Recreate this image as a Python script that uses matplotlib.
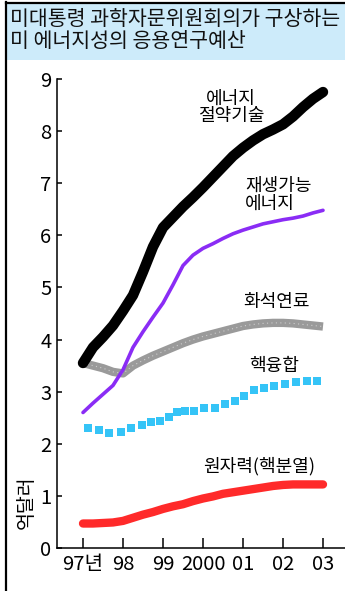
import numpy as np
import matplotlib
matplotlib.use("Agg")
import matplotlib.pyplot as plt
from matplotlib.patches import Rectangle
from matplotlib.lines import Line2D

plt.rcParams['font.family'] = ['Noto Sans CJK KR', 'DejaVu Sans']

# 데이터 (억달러)
years = [1997.0, 1997.25, 1997.5, 1997.75, 1998.0, 1998.25, 1998.5, 1998.75,
         1999.0, 1999.25, 1999.5, 1999.75, 2000.0, 2000.25, 2000.5, 2000.75,
         2001.0, 2001.25, 2001.5, 2001.75, 2002.0, 2002.25, 2002.5, 2002.75, 2003.0]

saving = [3.55, 3.85, 4.05, 4.27, 4.55, 4.85, 5.3, 5.78, 6.15, 6.35, 6.55, 6.73,
          6.92, 7.12, 7.32, 7.52, 7.68, 7.82, 7.94, 8.03, 8.13, 8.28, 8.46, 8.62, 8.75]

renewable = [2.6, 2.78, 2.95, 3.12, 3.42, 3.85, 4.15, 4.43, 4.7, 5.05, 5.42, 5.62,
             5.75, 5.84, 5.94, 6.03, 6.1, 6.16, 6.22, 6.26, 6.3, 6.33, 6.37, 6.43, 6.48]

fossil = [3.55, 3.5, 3.45, 3.38, 3.35, 3.5, 3.6, 3.69, 3.77, 3.85, 3.93, 4.0,
          4.06, 4.11, 4.16, 4.21, 4.26, 4.29, 4.31, 4.32, 4.32, 4.31, 4.29, 4.27, 4.25]

nuclear = [0.47, 0.47, 0.48, 0.49, 0.52, 0.58, 0.64, 0.69, 0.75, 0.8, 0.84, 0.9,
           0.95, 0.99, 1.04, 1.07, 1.1, 1.13, 1.16, 1.19, 1.21, 1.22, 1.22, 1.22, 1.22]

fusion_years = [1997.13, 1997.4, 1997.65, 1997.95, 1998.2, 1998.48, 1998.7, 1998.93,
                1999.15, 1999.35, 1999.55, 1999.78, 2000.03, 2000.3, 2000.55, 2000.8,
                2001.03, 2001.28, 2001.53, 2001.78, 2002.05, 2002.33, 2002.6, 2002.85]
fusion = [2.3, 2.26, 2.21, 2.23, 2.3, 2.36, 2.42, 2.44, 2.52, 2.61, 2.63, 2.63,
          2.69, 2.69, 2.76, 2.82, 2.92, 3.03, 3.07, 3.11, 3.15, 3.19, 3.21, 3.21]

tick_years = [1997, 1998, 1999, 2000, 2001, 2002, 2003]
tick_labels = ['97년', '98', '99', '2000', '01', '02', '03']
y_ticks = [0, 1, 2, 3, 4, 5, 6, 7, 8, 9]

W, H = 345, 591
fig = plt.figure(figsize=(W / 100, H / 100), dpi=100)
fig.patch.set_facecolor('white')

# 제목 상자
fig.add_artist(Rectangle((7 / W, 1 - 60 / H), 1 - 7 / W, 57 / H,
                         transform=fig.transFigure, facecolor='#cdebfa',
                         edgecolor='none', zorder=0))
fig.add_artist(Line2D([6 / W, 6 / W], [0, 1 - 2 / H], transform=fig.transFigure,
                      color='black', linewidth=1.6))
fig.add_artist(Line2D([6 / W, 1], [1 - 2.5 / H, 1 - 2.5 / H], transform=fig.transFigure,
                      color='black', linewidth=1.6))
fig.text(10 / W, 1 - 8 / H, '미대통령 과학자문위원회의가 구상하는\n미 에너지성의 응용연구예산',
         fontsize=14.8, va='top', ha='left', color='#111111', fontweight='medium',
         linespacing=1.0)

ax = fig.add_axes([57 / W, 43 / H, 288 / W, 469 / H])
ax.set_xlim(1996.35, 2003.55)
ax.set_ylim(0, 9)

ax.plot(years, nuclear, color='#ff2a2a', linewidth=6, solid_capstyle='round')
ax.plot(fusion_years, fusion, linestyle='none', marker='s', markersize=6,
        color='#35c4f7', markeredgewidth=0)
ax.plot(years, fossil, color='#9a9a9a', linewidth=6, solid_capstyle='butt')
ax.plot(years, fossil, color='white', linewidth=0.8, linestyle=(0, (1, 3)), alpha=0.5)
ax.plot(years, renewable, color='#8a2cf5', linewidth=2.6, solid_capstyle='round')
ax.plot(years, saving, color='black', linewidth=7.5, solid_capstyle='round')

# 라벨
ax.text(2000.7, 8.45, '에너지\n절약기술', fontsize=13, ha='center', va='center',
        linespacing=0.95)
ax.text(2001.05, 6.78, '재생가능\n에너지', fontsize=13, ha='left', va='center',
        linespacing=0.95)
ax.text(2001.85, 4.72, '화석연료', fontsize=13, ha='center', va='center')
ax.text(2001.78, 3.49, '핵융합', fontsize=13, ha='center', va='center')
ax.text(2001.4, 1.57, '원자력(핵분열)', fontsize=13, ha='center', va='center')

for side in ['top', 'right']:
    ax.spines[side].set_visible(False)
ax.spines['left'].set_linewidth(1.1)
ax.spines['bottom'].set_linewidth(1.1)

ax.set_xticks(tick_years)
ax.set_xticklabels(tick_labels)
ax.set_yticks(y_ticks)
ax.tick_params(axis='x', direction='in', length=7, width=1.1, pad=4)
ax.tick_params(axis='y', direction='in', length=3.8, width=1.1, pad=4)
for lbl in ax.get_xticklabels() + ax.get_yticklabels():
    lbl.set_fontfamily(['Liberation Sans Narrow', 'Noto Sans CJK KR'])
    lbl.set_fontsize(14.5)

fig.text(26 / W, 1 - 502 / H, '억달러', rotation=90, fontsize=14,
         ha='center', va='center')

fig.savefig('out.png', dpi=100)
